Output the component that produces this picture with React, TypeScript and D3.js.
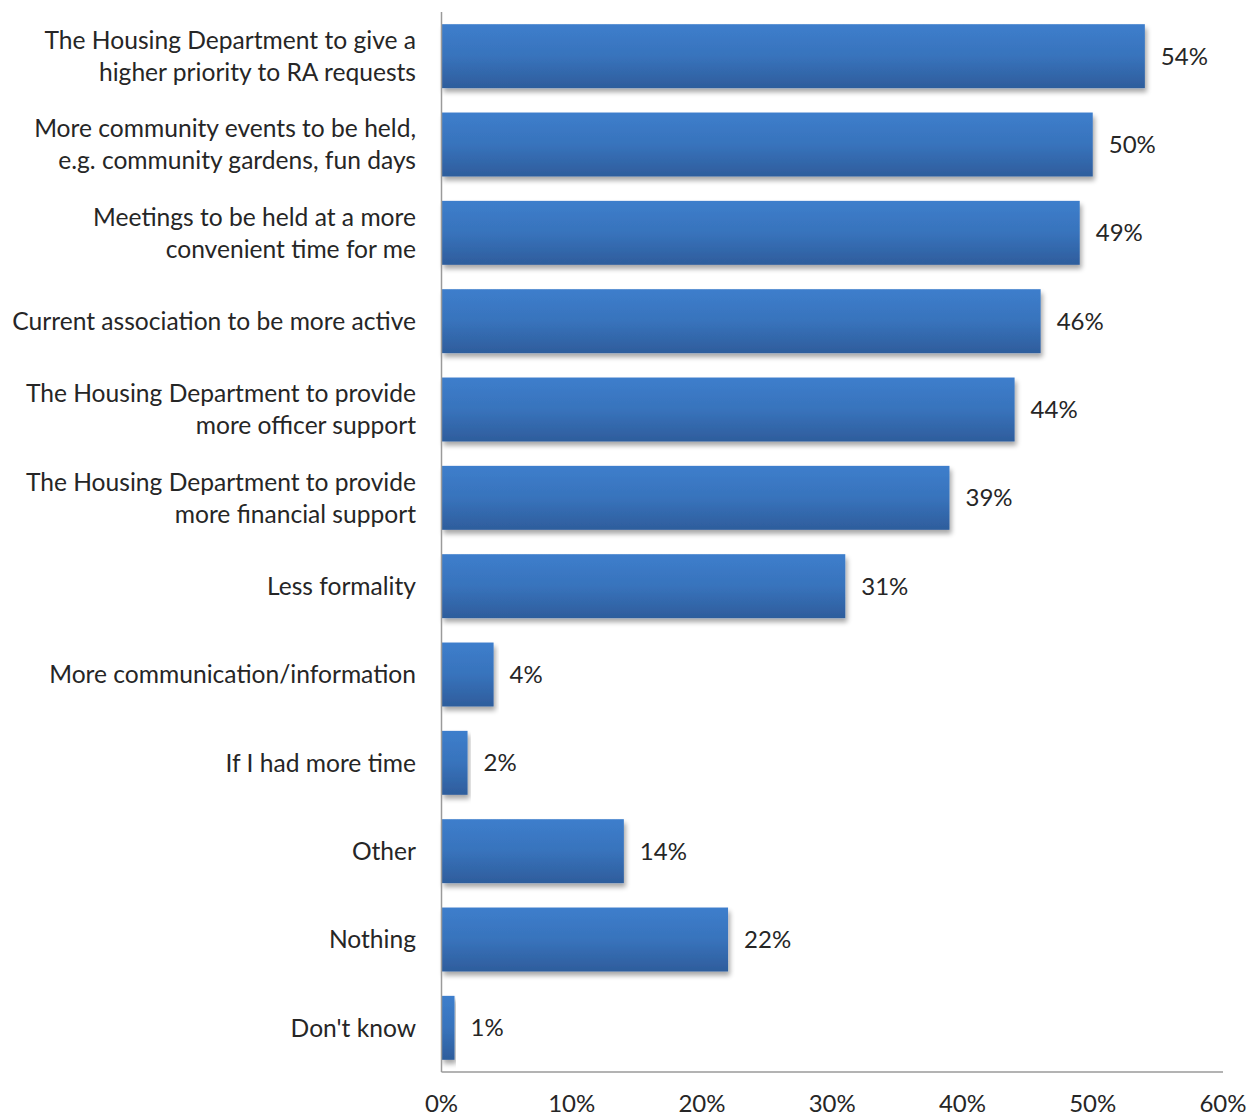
import React from "react";
import * as d3 from "d3";

const categories: string[][] = [
  ["The Housing Department to give a", "higher priority to RA requests"],
  ["More community events to be held,", "e.g. community gardens, fun days"],
  ["Meetings to be held at a more", "convenient time for me"],
  ["Current association to be more active"],
  ["The Housing Department to provide", "more officer support"],
  ["The Housing Department to provide", "more financial support"],
  ["Less formality"],
  ["More communication/information"],
  ["If I had more time"],
  ["Other"],
  ["Nothing"],
  ["Don't know"],
];
const values: number[] = [54, 50, 49, 46, 44, 39, 31, 4, 2, 14, 22, 1];
const ticks: number[] = [0, 10, 20, 30, 40, 50, 60];

const W = 1250;
const H = 1115;
const FONT = "Lato, 'Open Sans', sans-serif";
const FS = 24;
const LFS = 24.6;

export default function App() {
  const x = d3.scaleLinear().domain([0, 60]).range([441.5, 1223]);
  const y = d3
    .scaleBand<number>()
    .domain(values.map((_, i) => i))
    .range([12, 1072])
    .paddingInner(0.276)
    .paddingOuter(0.138);
  const bh = y.bandwidth();

  return (
    <svg
      width={W}
      height={H}
      style={{ position: "absolute", left: 0, top: 0, background: "#fff" }}
    >
      <defs>
        <linearGradient id="barGrad" x1="0" y1="0" x2="0" y2="1">
          <stop offset="0%" stopColor="#3D7ECC" />
          <stop offset="50%" stopColor="#3873BC" />
          <stop offset="100%" stopColor="#2E5D9C" />
        </linearGradient>
        <filter id="shadow" x="-5%" y="-20%" width="115%" height="160%">
          <feGaussianBlur in="SourceAlpha" stdDeviation="2.5" />
          <feOffset dx="2" dy="4" result="b" />
          <feComponentTransfer>
            <feFuncA type="linear" slope="0.35" />
          </feComponentTransfer>
          <feMerge>
            <feMergeNode />
            <feMergeNode in="SourceGraphic" />
          </feMerge>
        </filter>
      </defs>

      {values.map((v, i) => {
        const y0 = y(i)!;
        const cy = y0 + bh / 2;
        const lines = categories[i];
        const lh = 32;
        return (
          <g key={i}>
            <rect
              x={x(0)}
              y={y0}
              width={x(v) - x(0)}
              height={bh}
              fill="url(#barGrad)"
              filter="url(#shadow)"
            />
            <text
              x={x(v) + 16}
              y={cy}
              dy="0.36em"
              fontFamily={FONT}
              fontSize={FS}
              fill="#262626"
            >
              {v}%
            </text>
            <text textAnchor="end" fontFamily={FONT} fontSize={LFS} fill="#262626">
              {lines.map((l, j) => (
                <tspan
                  key={j}
                  x={416}
                  y={cy + (j - (lines.length - 1) / 2) * lh}
                  dy="0.36em"
                >
                  {l}
                </tspan>
              ))}
            </text>
          </g>
        );
      })}

      <line x1={441.5} x2={441.5} y1={12} y2={1072} stroke="#9a9a9a" strokeWidth={1.5} />
      <line x1={441.5} x2={1223} y1={1072} y2={1072} stroke="#9a9a9a" strokeWidth={1.5} />

      {ticks.map((t) => (
        <text
          key={t}
          x={x(t)}
          y={1103}
          dy="0.36em"
          textAnchor="middle"
          fontFamily={FONT}
          fontSize={FS}
          fill="#262626"
        >
          {t}%
        </text>
      ))}
    </svg>
  );
}
